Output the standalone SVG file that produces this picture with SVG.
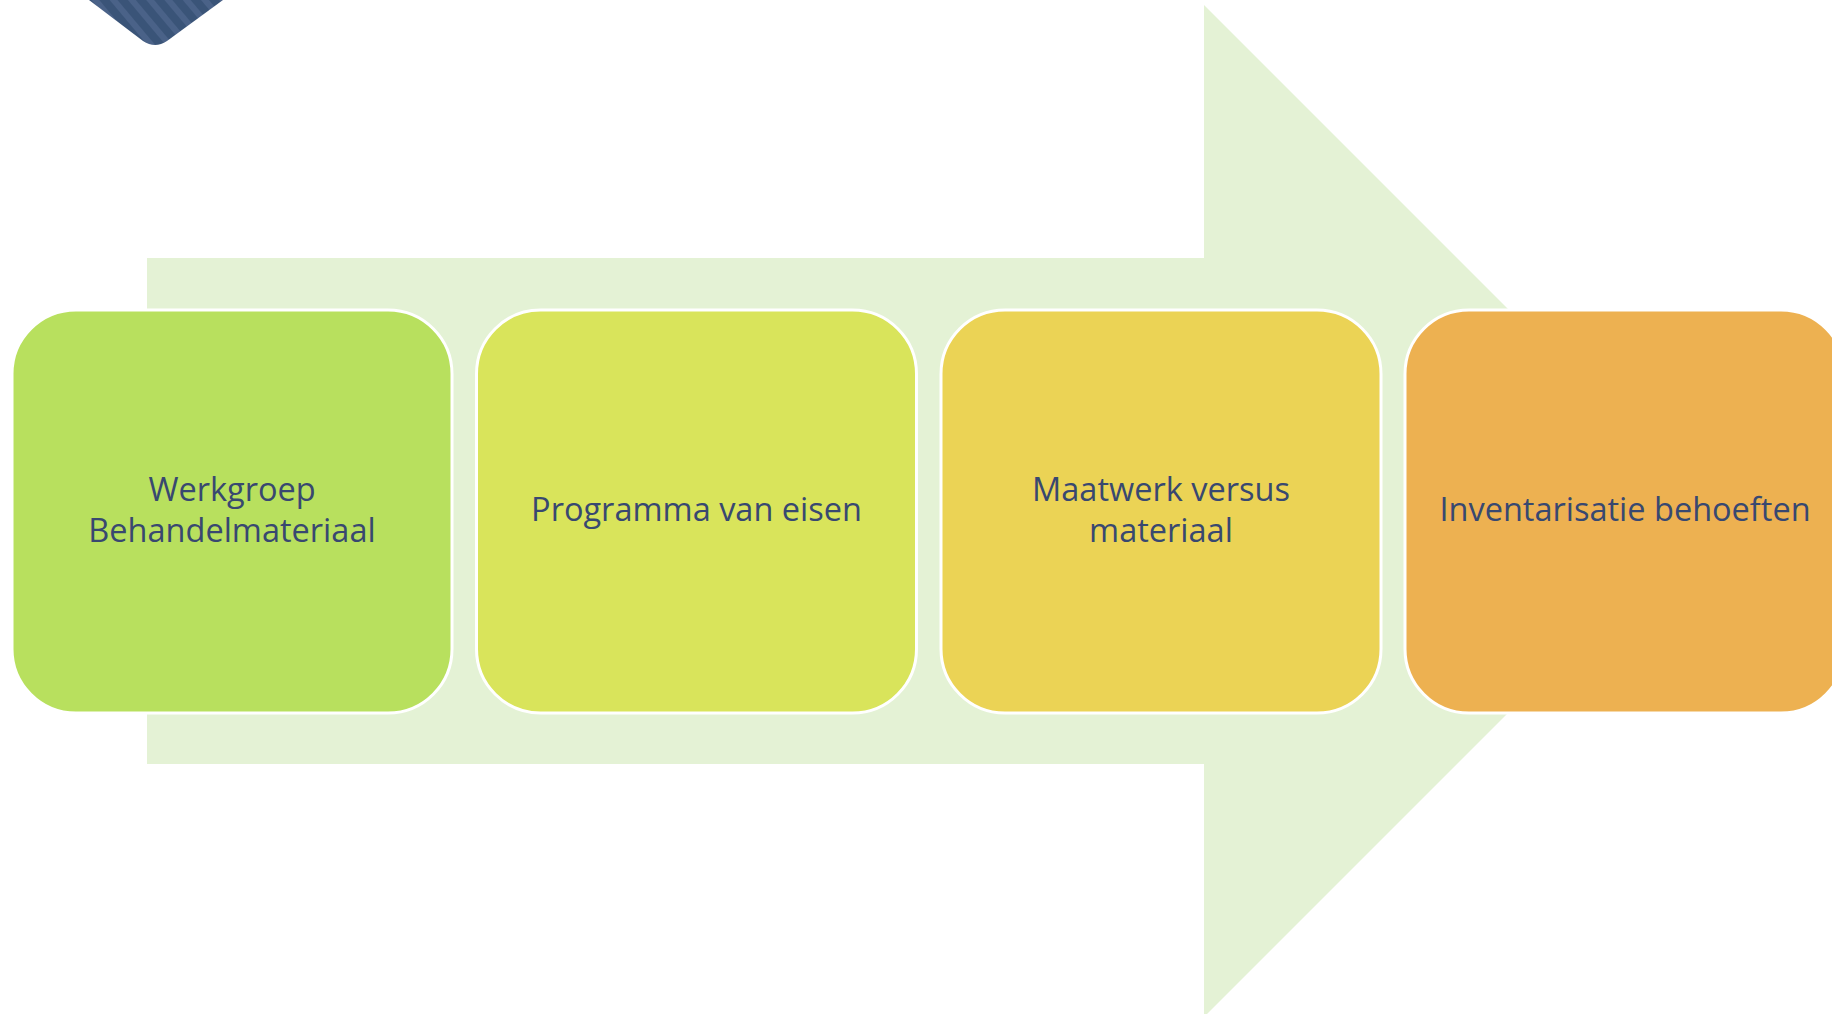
<svg xmlns="http://www.w3.org/2000/svg" width="1832" height="1014" viewBox="0 0 1832 1014">
<style>
.box{stroke:#ffffff;stroke-width:3}
.lbl{font-family:"Open Sans","Liberation Sans",sans-serif;font-size:32.5px;fill:#384870;text-anchor:middle}
</style>
<defs>
<pattern id="stripes" patternUnits="userSpaceOnUse" width="14" height="14" patternTransform="rotate(-40)">
<rect width="14" height="14" fill="#3A5478"/>
<rect width="6" height="14" fill="#4A6288"/>
</pattern>
</defs>
<rect width="1832" height="1014" fill="#ffffff"/>
<path d="M89,0 L143,41 Q155,49 167,41 L223,0 Z" fill="url(#stripes)"/>
<g id="arrow">
<polygon points="147,258 1204,258 1204,5 1710,511 1204,1017 1204,764 147,764" fill="#E4F2D5"/>
</g>
<g id="connectors"></g>
<g id="node1">
<rect class="box" x="12" y="310" width="440" height="403" rx="64" fill="#B8E05E"/>
<text class="lbl" x="232" y="501">Werkgroep</text>
<text class="lbl" x="232" y="542">Behandelmateriaal</text>
</g>
<g id="node2">
<rect class="box" x="476.5" y="310" width="440" height="403" rx="64" fill="#D9E45B"/>
<text class="lbl" x="696.5" y="521">Programma van eisen</text>
</g>
<g id="node3">
<rect class="box" x="941" y="310" width="440" height="403" rx="64" fill="#EBD355"/>
<text class="lbl" x="1161" y="501">Maatwerk versus</text>
<text class="lbl" x="1161" y="542">materiaal</text>
</g>
<g id="node4">
<rect class="box" x="1405" y="310" width="440" height="403" rx="64" fill="#EDB151"/>
<text class="lbl" x="1625" y="521">Inventarisatie behoeften</text>
</g>
</svg>
